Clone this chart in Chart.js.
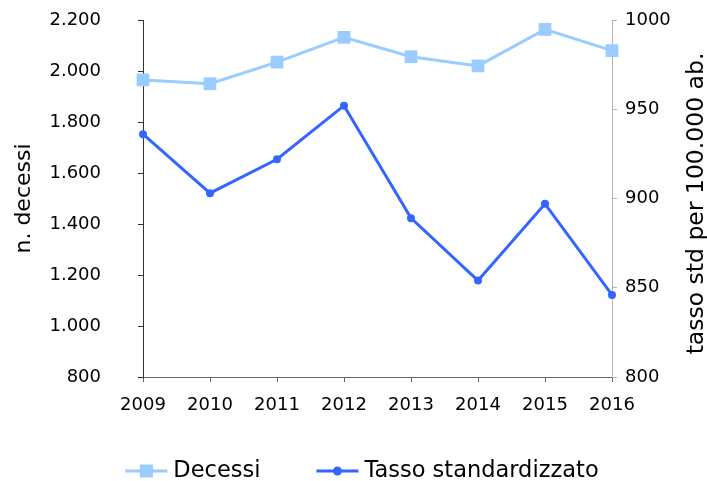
<!DOCTYPE html>
<html>
<head>
<meta charset="utf-8">
<title>Decessi e tasso standardizzato</title>
<script src="https://cdn.jsdelivr.net/npm/chart.js@4.4.1/dist/chart.umd.min.js"></script>
<style>
    html, body { margin: 0; padding: 0; background: #fff; }
</style>
</head>
<body>
<canvas id="chart" width="707" height="481"></canvas>
<script>
// Series
const years = ['2009', '2010', '2011', '2012', '2013', '2014', '2015', '2016'];
const decessi = [1965, 1950, 2035, 2132, 2056, 2020, 2163, 2080];
const tassoStd = [936, 903, 922, 952, 889, 854, 897, 846];

// Axis ranges
const leftRange = [800, 2200, 200];
const rightRange = [800, 1000, 50];

const FONT = '"DejaVu Sans", Verdana, sans-serif';
const colors = {
    decessi: '#99CCFF',
    tasso: '#3366FF'
};

// 2200 -> "2.200"
const formatIt = v => String(v).replace(/\B(?=(\d{3})+(?!\d))/g, '.');

// Legend row under the x axis (line + marker, then label)
const legendRow = {
    id: 'legendRow',
    afterDraw(chart) {
        const ctx = chart.ctx;
        const items = [
            { text: 'Decessi', color: colors.decessi, marker: 'rect' },
            { text: 'Tasso standardizzato', color: colors.tasso, marker: 'circle' }
        ];
        const lineLen = 42, textGap = 6, itemGap = 56, y = 471;

        ctx.save();
        ctx.font = '22.5px ' + FONT;
        const widths = items.map(it => lineLen + textGap + ctx.measureText(it.text).width);
        const total = widths.reduce((a, b) => a + b, 0) + itemGap * (items.length - 1);
        let x = 362 - total / 2;

        items.forEach((it, i) => {
            ctx.strokeStyle = it.color;
            ctx.fillStyle = it.color;
            ctx.lineWidth = 3;
            ctx.beginPath();
            ctx.moveTo(x, y);
            ctx.lineTo(x + lineLen, y);
            ctx.stroke();
            const cx = x + lineLen / 2;
            if (it.marker === 'rect') {
                ctx.fillRect(cx - 6.5, y - 6.5, 13, 13);
            } else {
                ctx.beginPath();
                ctx.arc(cx, y, 4.5, 0, Math.PI * 2);
                ctx.fill();
            }
            ctx.fillStyle = '#000';
            ctx.textBaseline = 'middle';
            ctx.textAlign = 'left';
            ctx.fillText(it.text, x + lineLen + textGap, y);
            x += widths[i] + itemGap;
        });
        ctx.restore();
    }
};

// Right axis title, reading bottom to top like the left one
const rightTitle = {
    id: 'rightTitle',
    afterDraw(chart) {
        const ctx = chart.ctx;
        const area = chart.chartArea;
        ctx.save();
        ctx.translate(697, (area.top + area.bottom) / 2 + 5);
        ctx.rotate(-Math.PI / 2);
        ctx.font = '23.5px ' + FONT;
        ctx.fillStyle = '#000';
        ctx.textAlign = 'center';
        ctx.textBaseline = 'middle';
        ctx.fillText('tasso std per 100.000 ab.', 0, 0);
        ctx.restore();
    }
};

// Fixed axis widths; the wide tick padding must not push the plot area down
const fixWidth = w => scale => {
    scale.width = w;
    scale.paddingTop = 0;
    scale.paddingBottom = 0;
};

const chart = new Chart(document.getElementById('chart'), {
    type: 'line',
    data: {
        labels: years,
        datasets: [
            {
                label: 'Decessi',
                data: decessi,
                yAxisID: 'y',
                borderColor: colors.decessi,
                backgroundColor: colors.decessi,
                borderWidth: 3,
                pointStyle: 'rect',
                pointRadius: 9,
                pointBorderWidth: 0,
                tension: 0,
                clip: false
            },
            {
                label: 'Tasso standardizzato',
                data: tassoStd,
                yAxisID: 'y1',
                borderColor: colors.tasso,
                backgroundColor: colors.tasso,
                borderWidth: 3,
                pointStyle: 'circle',
                pointRadius: 4,
                pointBorderWidth: 0,
                tension: 0,
                clip: false
            }
        ]
    },
    options: {
        responsive: false,
        animation: false,
        layout: { padding: { top: 20, left: 0, right: 0, bottom: 0 } },
        font: { family: FONT },
        plugins: {
            legend: { display: false },
            tooltip: { enabled: false }
        },
        scales: {
            x: {
                offset: false,
                ticks: {
                    color: '#000',
                    font: { family: FONT, size: 18 },
                    padding: 13,
                    maxRotation: 0,
                    autoSkip: false
                },
                grid: { drawOnChartArea: false, tickLength: 5, color: '#666' },
                border: { color: '#666', width: 1 },
                afterFit(scale) { scale.height = 104; }
            },
            y: {
                position: 'left',
                min: leftRange[0],
                max: leftRange[1],
                ticks: {
                    stepSize: leftRange[2],
                    color: '#000',
                    font: { family: FONT, size: 18 },
                    padding: 37,
                    callback: v => formatIt(v)
                },
                grid: { drawOnChartArea: false, tickLength: 5, color: '#333' },
                border: { color: '#333', width: 1 },
                title: {
                    display: true,
                    text: 'n. decessi',
                    color: '#000',
                    font: { family: FONT, size: 22 },
                    padding: { top: 11, bottom: 0 }
                },
                afterFit: fixWidth(143)
            },
            y1: {
                position: 'right',
                min: rightRange[0],
                max: rightRange[1],
                ticks: {
                    stepSize: rightRange[2],
                    color: '#000',
                    font: { family: FONT, size: 18 },
                    padding: 8,
                    callback: v => String(v)
                },
                grid: { drawOnChartArea: false, tickLength: 5, color: '#b3b3b3' },
                border: { color: '#b3b3b3', width: 1 },
                afterFit: fixWidth(95)
            }
        }
    },
    plugins: [legendRow, rightTitle]
});
</script>
</body>
</html>
